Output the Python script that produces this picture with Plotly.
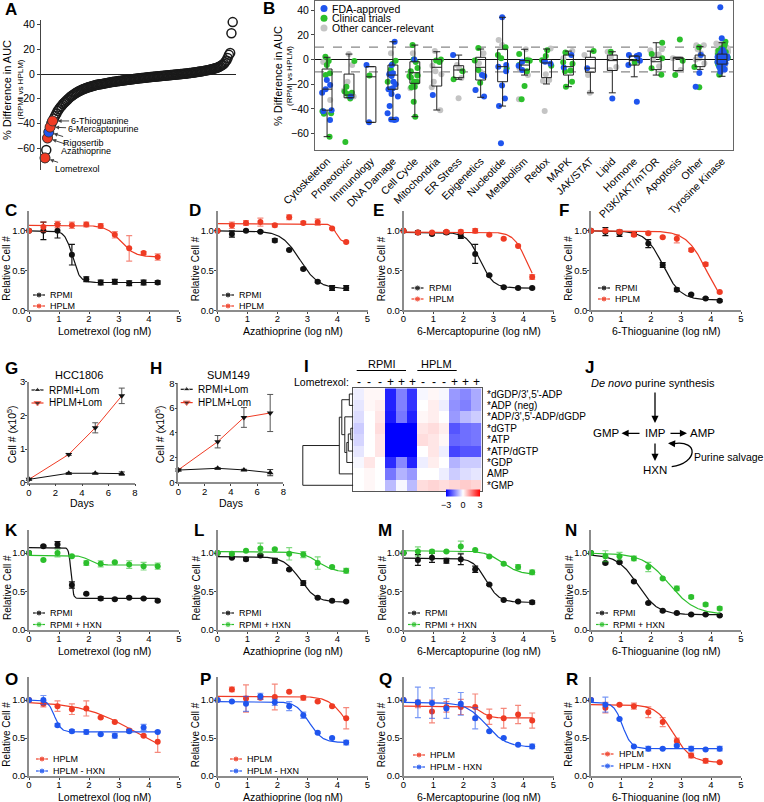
import numpy as np
import plotly.graph_objects as go

W, H = 764, 802
FONT = "Arial, Liberation Sans, sans-serif"
RED = "#ef3b24"
GREEN = "#2cbf2c"
BLUE = "#1f55ee"
GREY = "#c4c4c4"
BLACK = "#111111"
AXIS = "#8c8c8c"

# ---------------- panel A : ranked % difference in AUC ----------------
A_VALUES = [-67.9, -61.5, -51.8, -47.0, -43.0, -40.0, -38.0, -36.0, -34.0, -32.0,
            -30.0, -28.5, -27.0, -26.0, -24.5, -23.5, -22.5, -21.5, -20.5, -19.5,
            -18.5, -17.8, -17.0, -16.3, -15.6, -15.0, -14.4, -13.8, -13.3, -12.8,
            -12.3, -11.9, -11.5, -11.1, -10.8, -10.5, -10.2, -9.9, -9.6, -9.3,
            -9.0, -8.8, -8.6, -8.4, -8.2, -8.0, -7.8, -7.6, -7.4, -7.2,
            -7.0, -6.8, -6.6, -6.5, -6.3, -6.2, -6.0, -5.9, -5.7, -5.6,
            -5.4, -5.3, -5.1, -5.0, -4.8, -4.7, -4.6, -4.4, -4.3, -4.2,
            -4.0, -3.9, -3.8, -3.7, -3.5, -3.4, -3.3, -3.2, -3.1, -3.0,
            -2.8, -2.7, -2.6, -2.5, -2.4, -2.3, -2.2, -2.1, -2.0, -1.9,
            -1.8, -1.7, -1.6, -1.5, -1.4, -1.3, -1.2, -1.1, -1.0, -0.9,
            -0.8, -0.7, -0.6, -0.5, -0.4, -0.3, -0.2, -0.1, 0.0, 0.1,
            0.2, 0.4, 0.5, 0.6, 0.8, 0.9, 1.0, 1.2, 1.3, 1.5,
            1.6, 1.8, 2.0, 2.1, 2.3, 2.5, 2.7, 2.9, 3.1, 3.3,
            3.5, 3.8, 4.0, 4.3, 4.6, 4.9, 5.3, 5.7, 6.2, 6.8,
            7.5, 8.3, 9.5, 11.0, 13.0, 15.5, 17.0, 33.0, 42.0]
A_NAMES = ["Lometrexol", "Azathioprine", "Rigosertib", "6-Mercaptopurine", "6-Thioguanine"]
A_NAME_VALUES = [-67.9, -51.8, -47.0, -43.0, -38.0]
A_NAME_COLORS = [RED, RED, BLUE, RED, RED]

# ---------------- panel B : by drug class ----------------
B_CATS = ["Cytoskeleton", "Proteotoxic", "Immunology", "DNA Damage", "Cell Cycle",
          "Mitochondria", "ER Stress", "Epigenetics", "Nucleotide", "Metabolism",
          "Redox", "MAPK", "JAK/STAT", "Lipid", "Hormone", "PI3K/AKT/mTOR",
          "Apoptosis", "Other", "Tyrosine Kinase"]
B_Q1 = [-41, -31, -50.9, -24.1, -19.3, -21.5, -14.7, -16.6, -18, -8.5,
        -14.7, -12.6, -10.3, -8.9, -4.5, -8.2, -9, -5.8, -3.7]
B_MED = [-24, -28.8, -14, -12.6, -10.7, -6.3, -8.5, -6.3, -5.8, -4.5,
         -2.8, -5.8, -7, -0.9, -0.9, -1.8, 1, 0, 0]
B_Q3 = [-7.7, -11.8, -5.8, -4.5, -1.8, 0, -5, 1.8, 8.3, -0.9,
        0, 3.6, 1.8, 3.6, 2.8, 1.8, 1.8, 3.6, 4.4]
B_LO = [-62.5, -31, -50.9, -48.5, -46.3, -40.9, -16, -30.6, -37.7, -12.6,
        -19.8, -22, -27, -27, -14, -12.6, -9, -8, -13.6]
B_HI = [1.8, 4.4, -5.8, 14.4, 11.7, 6.3, 3.6, 8.5, 34.2, 8.3,
        8.5, 6.8, 6.8, 6.3, 2.8, 13.6, 1.8, 10.4, 13.6]
B_FDA = [[-16.6, -20.7, -24, -27, -42, -41, -49],
         [-30],
         [-4.5, -50.8],
         [14.4, -4.5, -11.2, -13.4, -18, -24, -24, -23.2, -28, -30, -37.7, -43.6, -48.6, -49, -48.6, -12, -20],
         [0],
         [-28.8],
         [3.6],
         [-12.6, -13.4, -24.6, -30],
         [34.2, -4.5, -5.8, -9.5, -21, -31.5, -37.7, -67.9],
         [-1.8, -8.5, -5],
         [-3.4, -1.8],
         [3.6, -6.4],
         [-7],
         [-31.5],
         [3.6, 3.6, 2.8, -1, -4.5, -34.2],
         [],
         [],
         [3.6, -11, -22],
         [42.3, 17.2, 8, 5, 3, 2, 1, 0, -1, -2, -3, -4, -6, -8, -10, 4, 6, -1.5, 0.5, 2.5]]
B_CLIN = [[-1.2, -4.5, 2.3, -12.6, -11.2, -42, -43.6, -62.5, -44],
          [-1.2, -22, -27, -26, -31.5, -66.8, -28],
          [-13],
          [-3.4, -1, -18, -8],
          [11.7, 0, -2, -6.9, -9.5, -13.4, -14.6, -18, -18, -18.9, -22, -34.2, -46.3, -22.5, -13],
          [0, -0.9, -2],
          [-9.5, -16],
          [9.3, -0.9, -8.5, -18.9],
          [10, 3.6, -7, 1],
          [4.4, -0.5, -4.5, -9.5, -21.5, -32.2, -1],
          [7.5, 2.8, -5, -0.5],
          [5.6, -2.3, -3.4, -9.5, -9, -18, -22],
          [6.8],
          [6.3],
          [-2.5],
          [13.6, 4.4, 1, -7, -12.3],
          [16.3, -1, -12.6],
          [10, -6, -22.5],
          [14.4, 12, 10, 7, 6, 5, 4, 3, 2, 1, 0.5, 0, -0.5, -1, -2, -3, -4, -5, -7, -12.3, 9, 3.5, -2.5, 1.5]]
B_OTHER = [[-32.8, -2],
           [4.4, -4.5, -18, -30, -25],
           [],
           [5, -22],
           [5, -23.2, -12.5],
           [6.8, -5, -9.5, -12, -41, -22.5, -18],
           [-4.5, -7, -31.4, -15],
           [5, -3, -10, -24.6],
           [15.8, 11.7],
           [8.3, 0, -7, -12.6, -32.2],
           [9, -16.6, -17.5, -41.7, -12],
           [6.8, 1],
           [3.6, -12.6, -27],
           [6.3, 2, -8.5, -6],
           [],
           [8.3, 7.5, 3.6, 0, -5.5, 4],
           [1, -8.5],
           [8.3, 11.5, 11.5, 5, 0, -3, 1],
           [13, 11, 10, 9, 8, 7, 6, 5, 4, 2, 1, -1, -3, -6, -9, 12.5, 3]]

# ---------------- dose response (C-F, K-N, O-R) ----------------
DOSE = [0, 0.48, 0.95, 1.43, 1.91, 2.39, 2.86, 3.34, 3.82, 4.29]
DRUGS = ["Lometrexol", "Azathioprine", "6-Mercaptopurine", "6-Thioguanine"]

RPMI_MEAN = [[1.0, 1.0, 1.0, 0.70, 0.39, 0.35, 0.36, 0.34, 0.35, 0.35],
             [1.0, 0.96, 1.0, 0.99, 0.88, 0.76, 0.52, 0.36, 0.28, 0.28],
             [1.0, 0.98, 0.96, 0.98, 0.935, 0.71, 0.44, 0.29, 0.28, 0.28],
             [1.0, 0.99, 0.97, 0.96, 0.84, 0.57, 0.26, 0.20, 0.15, 0.12]]
RPMI_SD = [[0, 0.11, 0.09, 0.13, 0.03, 0.03, 0.03, 0.03, 0.03, 0.02],
           [0, 0.04, 0.01, 0.01, 0.02, 0.01, 0.01, 0.01, 0.03, 0.03],
           [0, 0.02, 0.01, 0.02, 0.03, 0.12, 0.01, 0.01, 0.01, 0.01],
           [0, 0.05, 0.04, 0.02, 0.05, 0.03, 0.02, 0.01, 0.01, 0.01]]
RPMI_FIT = [(1.0, 0.35, 1.45, 3.5), (1.0, 0.27, 2.75, 1.4),
            (0.98, 0.28, 2.55, 2.0), (1.0, 0.13, 2.4, 1.5)]
HPLM_MEAN = [[1.0, 1.05, 1.08, 1.07, 1.08, 1.06, 0.95, 0.78, 0.72, 0.67],
             [1.0, 1.07, 1.10, 1.11, 1.07, 1.17, 1.10, 1.11, 1.03, 0.86],
             [1.0, 0.98, 0.98, 0.99, 0.99, 1.0, 0.95, 0.90, 0.81, 0.42],
             [1.0, 1.0, 0.99, 0.95, 0.97, 0.92, 0.90, 0.76, 0.58, 0.23]]
HPLM_SD = [[0, 0.06, 0.04, 0.04, 0.03, 0.03, 0.04, 0.16, 0.02, 0.04],
           [0, 0.04, 0.03, 0.05, 0.02, 0.03, 0.02, 0.04, 0.01, 0.01],
           [0, 0.01, 0.01, 0.01, 0.02, 0.03, 0.01, 0.01, 0.01, 0.03],
           [0, 0.01, 0.01, 0.02, 0.01, 0.01, 0.05, 0.02, 0.02, 0.01]]
HPLM_FIT = [(1.07, 0.67, 3.05, 1.8), (1.09, 0.855, 3.95, 5.0),
            (0.985, 0.25, 4.1, 2.0), (1.0, 0.0, 3.85, 1.3)]

RPMI2_MEAN = [[1.0, 1.09, 1.11, 0.585, 0.47, 0.41, 0.40, 0.42, 0.41, 0.38],
              [1.0, 0.94, 0.92, 0.97, 0.90, 0.785, 0.61, 0.42, 0.38, 0.37],
              [1.0, 0.91, 0.94, 0.90, 0.92, 0.79, 0.59, 0.39, 0.37, 0.36],
              [1.0, 0.87, 0.88, 0.63, 0.35, 0.25, 0.22, 0.20, 0.20, 0.19]]
RPMI2_SD = [[0, 0.01, 0.04, 0.04, 0.01, 0.02, 0.01, 0.01, 0.01, 0.01],
            [0, 0.01, 0.02, 0.01, 0.03, 0.01, 0.03, 0.01, 0.01, 0.01],
            [0, 0.07, 0.06, 0.03, 0.07, 0.04, 0.01, 0.01, 0.01, 0.02],
            [0, 0.01, 0.01, 0.01, 0.01, 0.01, 0.01, 0.01, 0.01, 0.01]]
RPMI2_FIT = [(1.07, 0.41, 1.4, 12.0), (0.955, 0.36, 2.75, 1.6),
             (0.935, 0.36, 2.75, 2.0), (0.98, 0.2, 1.55, 1.3)]
RHXN_MEAN = [[1.0, 0.91, 1.0, 0.96, 0.87, 0.86, 0.88, 0.85, 0.83, 0.83],
             [1.0, 0.99, 1.03, 1.06, 1.05, 0.99, 0.98, 0.87, 0.82, 0.77],
             [1.0, 1.02, 1.02, 1.02, 1.085, 1.04, 0.955, 0.86, 0.82, 0.75],
             [1.0, 0.96, 0.96, 0.93, 0.82, 0.67, 0.54, 0.43, 0.33, 0.28]]
RHXN_SD = [[0, 0.01, 0.05, 0.01, 0.03, 0.04, 0.01, 0.05, 0.05, 0.04],
           [0, 0.01, 0.01, 0.07, 0.01, 0.08, 0.04, 0.08, 0.01, 0.03],
           [0, 0.06, 0.02, 0.01, 0.07, 0.01, 0.01, 0.01, 0.03, 0.03],
           [0, 0.07, 0.05, 0.03, 0.06, 0.01, 0.03, 0.02, 0.02, 0.02]]
RHXN_FIT = [(0.97, 0.845, 2.0, 3.0), (1.02, 0.75, 3.35, 1.6),
            (1.03, 0.72, 3.3, 1.5), (1.0, 0.2, 2.6, 1.0)]

HPLM2_MEAN = [[1.0, 0.95, 0.92, 0.88, 0.89, 0.77, 0.71, 0.60, 0.53, 0.45],
              [1.0, 1.14, 1.02, 1.03, 1.04, 1.11, 1.03, 0.98, 0.92, 0.76],
              [1.0, 0.95, 0.85, 0.91, 0.91, 0.91, 0.78, 0.76, 0.81, 0.73],
              [1.0, 0.90, 0.94, 0.92, 0.84, 0.71, 0.46, 0.27, 0.20, 0.18]]
HPLM2_SD = [[0, 0.04, 0.07, 0.07, 0.10, 0.01, 0.01, 0.02, 0.01, 0.14],
            [0, 0.03, 0.18, 0.02, 0.17, 0.01, 0.03, 0.01, 0.01, 0.14],
            [0, 0.05, 0.15, 0.07, 0.10, 0.17, 0.10, 0.13, 0.12, 0.10],
            [0, 0.07, 0.01, 0.04, 0.07, 0.06, 0.04, 0.03, 0.03, 0.01]]
HPLM2_FIT = [(0.98, 0.2, 3.5, 0.5), (1.05, 0.4, 4.3, 1.5),
             (0.92, 0.765, 2.6, 3.0), (0.94, 0.18, 2.75, 1.5)]
HMHXN_MEAN = [[1.0, 1.0, 0.67, 0.59, 0.58, 0.55, 0.53, 0.59, 0.64, 0.58],
              [1.0, 0.98, 0.95, 1.05, 0.97, 0.92, 0.80, 0.57, 0.50, 0.44],
              [1.0, 0.97, 0.96, 0.89, 0.95, 0.76, 0.59, 0.50, 0.41, 0.39],
              [1.0, 0.94, 0.75, 0.39, 0.36, 0.36, 0.40, 0.36, 0.35, 0.36]]
HMHXN_SD = [[0, 0.06, 0.02, 0.02, 0.03, 0.01, 0.03, 0.02, 0.04, 0.01],
            [0, 0.01, 0.10, 0.04, 0.04, 0.06, 0.04, 0.01, 0.01, 0.03],
            [0, 0.20, 0.20, 0.13, 0.15, 0.14, 0.01, 0.01, 0.01, 0.03],
            [0, 0.10, 0.01, 0.01, 0.03, 0.01, 0.01, 0.03, 0.01, 0.03]]
HMHXN_FIT = [(1.0, 0.58, 0.85, 4.0), (0.98, 0.44, 3.05, 2.0),
             (0.97, 0.38, 2.75, 1.3), (0.97, 0.36, 1.05, 3.0)]

# ---------------- G, H : growth with lometrexol ----------------
DAYS = [0, 3, 5, 7]
G_RPMI = [0.1, 0.28, 0.28, 0.27]
G_RPMI_SD = [0.02, 0.02, 0.01, 0.05]
G_HPLM = [0.1, 0.84, 1.63, 2.58]
G_HPLM_SD = [0.02, 0.03, 0.15, 0.23]
H_RPMI = [0.99, 1.13, 1.0, 0.78]
H_RPMI_SD = [0.05, 0.05, 0.05, 0.25]
H_HPLM = [1.0, 3.28, 5.24, 5.6]
H_HPLM_SD = [0.1, 0.5, 0.8, 1.5]

# ---------------- I : nucleotide heatmap ----------------
I_ROWS = ["*dGDP/3',5'-ADP", "*ADP (neg)", "*ADP/3',5'-ADP/dGDP", "*dGTP", "*ATP",
          "*ATP/dGTP", "*GDP", "AMP", "*GMP"]
I_SIGNS = ["-", "-", "-", "+", "+", "+", "-", "-", "-", "+", "+", "+"]
I_Z = [[-0.2, 0.1, 0.1, -2.6, -1.5, -2.4, -0.1, 0.1, -0.1, -1.2, -1.4, -1.0],
       [-0.3, 0.1, 0.2, -2.6, -1.5, -2.4, 0.0, 0.2, -0.2, -1.3, -1.5, -1.0],
       [-0.4, 0.0, 0.3, -2.7, -1.6, -2.6, 0.1, 0.2, 0.0, -1.2, -0.8, -0.6],
       [-0.6, 0.0, 0.4, -3.5, -3.5, -3.5, 0.3, 0.4, 0.2, -2.0, -1.7, -1.6],
       [-0.5, 0.0, 0.3, -3.5, -3.5, -3.5, 0.4, 0.3, 0.1, -1.8, -1.7, -1.6],
       [-0.3, 0.0, 0.3, -3.5, -3.5, -3.5, 0.0, 0.3, -0.2, -2.2, -2.0, -2.0],
       [-0.1, 0.3, 0.0, -2.5, -1.4, -2.6, -0.2, 0.2, 0.0, -0.9, -0.6, -0.6],
       [0.0, 0.1, 0.0, -1.6, -0.9, -1.2, 0.0, 0.0, -0.2, -0.6, -0.4, -0.3],
       [0.0, 0.1, 0.0, -0.8, -0.1, -0.8, 0.4, 0.5, 0.4, 0.5, 0.6, 0.5]]
# row clustering: (child a, child b, merge height)
I_LINKAGE = [(3, 4, 2.5), (0, 1, 4), (9, 5, 5), (11, 6, 6.5), (2, 12, 8.5),
             (10, 13, 11.5), (14, 7, 14), (15, 8, 50.5)]

# ======================================================================
fig = go.Figure()
lay = {}
shapes, annos = [], []


def xd(a, b):
    return [a / W, b / W]


def yd(top, bot):
    return [1 - bot / H, 1 - top / H]


def text(x, y, s, size=11, xanchor="center", yanchor="middle", **kw):
    annos.append(dict(x=x / W, y=1 - y / H, xref="paper", yref="paper", text=s,
                      showarrow=False, xanchor=xanchor, yanchor=yanchor,
                      font=dict(size=size, family=FONT, color="black"), **kw))


def arrow(hx, hy, tx, ty):
    annos.append(dict(x=hx / W, y=1 - hy / H, xref="paper", yref="paper", text="",
                      showarrow=True, ax=tx - hx, ay=ty - hy, arrowhead=2, arrowsize=1.1,
                      arrowwidth=1.3, arrowcolor="black"))


def hline(x0, x1, y, color="black", width=1):
    shapes.append(dict(type="line", xref="paper", yref="paper", x0=x0 / W, x1=x1 / W,
                       y0=1 - y / H, y1=1 - y / H, line=dict(color=color, width=width)))


def lin_axis(**kw):
    d = dict(showline=True, linecolor=AXIS, linewidth=1.5, ticks="outside", ticklen=2,
             tickwidth=1, tickcolor="#444", tickfont=dict(size=9.5), showgrid=False,
             zeroline=False, fixedrange=True, ticklabelstandoff=-2)
    d.update(kw)
    return d


def set_axes(n, xa, ya):
    xa["anchor"] = "y%d" % n
    ya["anchor"] = "x%d" % n
    lay["xaxis%d" % n] = xa
    lay["yaxis%d" % n] = ya


def key(cx, y0, dy, items, size=9):
    # little legend: marker on a short line, label to the right
    for i, (label, mcolor, lcolor, symbol) in enumerate(items):
        y = y0 + i * dy
        fig.add_trace(go.Scatter(x=[cx - 6, cx, cx + 6], y=[y, y, y], mode="lines+markers",
                                 line=dict(color=lcolor, width=1.2),
                                 marker=dict(size=[0, 6, 0], color=mcolor, symbol=symbol),
                                 xaxis="x", yaxis="y", hoverinfo="skip", cliponaxis=False))
        text(cx + 9, y, label, size=size, xanchor="left")


# canvas axis used for keys
lay["xaxis"] = dict(domain=[0, 1], range=[0, W], visible=False, fixedrange=True)
lay["yaxis"] = dict(domain=[0, 1], range=[H, 0], visible=False, fixedrange=True)

# ---------------- A ----------------
ranks = list(range(len(A_VALUES)))
set_axes(2, dict(domain=xd(41, 236), range=[-3.15, 150.6], visible=False, fixedrange=True),
         lin_axis(domain=yd(20, 170), range=[-77.7, 43.7], tickvals=[-60, -40, -20, 0, 20, 40],
                  linecolor="#444", linewidth=1, ticklen=3, tickfont=dict(size=10.5),
                  ticklabelstandoff=0, zeroline=True, zerolinecolor="#222", zerolinewidth=1))
fig.add_trace(go.Scatter(x=ranks, y=A_VALUES, mode="markers", xaxis="x2", yaxis="y2",
                         marker=dict(symbol="circle-open", size=9, color="#1a1a1a", line=dict(width=1.5)),
                         cliponaxis=False))
name_ranks = [A_VALUES.index(v) for v in A_NAME_VALUES]
fig.add_trace(go.Scatter(x=name_ranks, y=A_NAME_VALUES, mode="markers", xaxis="x2", yaxis="y2",
                         marker=dict(size=10, color=A_NAME_COLORS, line=dict(color="#333", width=0.8)),
                         cliponaxis=False))
A_OFFSETS = [(32, 11), (38, 13), (35, 11), (53, 2), (47, 0)]
for nm, r, v, (ox, oy) in zip(A_NAMES, name_ranks, A_NAME_VALUES, A_OFFSETS):
    annos.append(dict(x=r, y=v, xref="x2", yref="y2", text=nm, showarrow=True, ax=ox, ay=oy,
                      arrowhead=2, arrowsize=0.8, arrowwidth=1, standoff=5,
                      font=dict(size=9, family=FONT, color="black")))
text(7, 90, "% Difference in AUC", size=11, textangle=-90)
text(19.5, 90, "(RPMI vs HPLM)", size=8, textangle=-90)

# ---------------- B ----------------
set_axes(3, dict(domain=xd(315, 733), range=[-0.55, 18.5], tickvals=list(range(19)), ticktext=B_CATS,
                 tickangle=-45, tickfont=dict(size=10.5), showline=True, mirror=True, linecolor="#666",
                 linewidth=1, ticks="", showgrid=False, zeroline=False, fixedrange=True),
         dict(domain=yd(1, 150), range=[-73.3, 47.4], tickvals=[-60, -40, -20, 0, 20, 40],
              showline=True, mirror=True, linecolor="#666", linewidth=1, ticks="outside", ticklen=3,
              tickfont=dict(size=10.5), showgrid=False, zeroline=False, fixedrange=True))
for v, dash, col in ((10, "dash", "#888"), (-10, "dash", "#888"), (0, None, "#111")):
    shapes.append(dict(type="line", xref="x3 domain", yref="y3", x0=0, x1=1, y0=v, y1=v,
                       layer="below", line=dict(color=col, width=1.2 if dash else 1, dash=dash)))
for pts, color in ((B_OTHER, GREY), (B_CLIN, GREEN), (B_FDA, BLUE)):
    xs, ys = [], []
    for i, vals in enumerate(pts):
        xs += [i] * len(vals)
        ys += vals
    fig.add_trace(go.Box(x=xs, y=ys, boxpoints="all", jitter=1, pointpos=0, width=0.55,
                         marker=dict(color=color, size=6), line=dict(color="rgba(0,0,0,0)"),
                         fillcolor="rgba(0,0,0,0)", xaxis="x3", yaxis="y3", hoveron="points"))
fig.add_trace(go.Box(x=list(range(19)), q1=B_Q1, median=B_MED, q3=B_Q3, lowerfence=B_LO,
                     upperfence=B_HI, width=0.45, whiskerwidth=0.7, boxpoints=False,
                     line=dict(color="#222", width=1), fillcolor="rgba(0,0,0,0)",
                     xaxis="x3", yaxis="y3"))
for i, (label, color) in enumerate((("FDA-approved", BLUE), ("Clinical trials", GREEN),
                                    ("Other cancer-relevant", GREY))):
    y = 8.5 + i * 9.7
    fig.add_trace(go.Scatter(x=[324], y=[y], mode="markers", marker=dict(size=7, color=color),
                             xaxis="x", yaxis="y", hoverinfo="skip"))
    text(330, y, label, size=10.5, xanchor="left")
text(278, 76, "% Difference in AUC", size=11, textangle=-90)
text(290, 76, "(RPMI vs HPLM)", size=8, textangle=-90)

# ---------------- dose response rows ----------------
LEFTS = [29, 217.5, 403.5, 591]
XFIT = np.linspace(0, DOSE[-1], 200)


def dose_panel(n, left, top, bot, ymax, drug, series):
    set_axes(n, lin_axis(domain=xd(left, left + 150), range=[0, 5], tickvals=[0, 1, 2, 3, 4, 5],
                         ticklabelstandoff=-3),
             lin_axis(domain=yd(top, bot), range=[0, ymax], tickvals=[0, 0.5, 1], tickformat=".1f"))
    text(left + 75, bot + 20.5, drug + " (log nM)", size=10.5)
    text(left - 22, (top + bot) / 2 + 8, "Relative Cell #", size=10, textangle=-90)
    for mean, sd, fit, color, ecol in series:
        t, b, ic, hill = fit
        yfit = b + (t - b) / (1 + 10 ** (hill * (XFIT - ic)))
        fig.add_trace(go.Scatter(x=XFIT, y=yfit, mode="lines", line=dict(color=color, width=1.2),
                                 xaxis="x%d" % n, yaxis="y%d" % n, hoverinfo="skip"))
        fig.add_trace(go.Scatter(x=DOSE, y=mean, mode="markers", marker=dict(color=color, size=6),
                                 error_y=dict(type="data", array=sd, color=ecol, thickness=1.2, width=3),
                                 xaxis="x%d" % n, yaxis="y%d" % n, cliponaxis=False))


RED_E = "rgba(239,59,36,0.6)"
GREEN_E = "rgba(44,191,44,0.6)"
BLUE_E = "rgba(31,85,238,0.6)"
ROW1 = (211, 310.3, 1.25)
ROW3 = (530, 630, 1.3)
ROW4 = (677.3, 776, 1.3)
KEYS_1 = [(39, 295, 11), (228, 295, 11), (417.5, 288, 11), (604, 288, 11)]
KEYS_3 = [(39, 613, 11.5), (228, 613, 11.5), (414, 613, 11.5), (602, 613, 11.5)]
KEYS_4 = [(42, 759, 12), (236, 759, 12), (419, 755, 12), (607.5, 754, 12)]
LABELS_1 = [(3, 210, "C"), (187, 210, "D"), (371, 210, "E"), (557, 210, "F")]
LABELS_3 = [(3, 530, "K"), (192, 530, "L"), (376, 530, "M"), (563, 530, "N")]
LABELS_4 = [(3, 679, "O"), (198, 679, "P"), (377, 679, "Q"), (564, 679, "R")]

for j in range(4):
    dose_panel(4 + j, LEFTS[j], ROW1[0], ROW1[1], ROW1[2], DRUGS[j],
               [(RPMI_MEAN[j], RPMI_SD[j], RPMI_FIT[j], BLACK, BLACK),
                (HPLM_MEAN[j], HPLM_SD[j], HPLM_FIT[j], RED, RED_E)])
    cx, y0, dy = KEYS_1[j]
    key(cx, y0, dy, [("RPMI", BLACK, BLACK, "circle"), ("HPLM", RED, RED, "circle")])

    dose_panel(12 + j, LEFTS[j], ROW3[0], ROW3[1], ROW3[2], DRUGS[j],
               [(RPMI2_MEAN[j], RPMI2_SD[j], RPMI2_FIT[j], BLACK, BLACK),
                (RHXN_MEAN[j], RHXN_SD[j], RHXN_FIT[j], GREEN, GREEN_E)])
    cx, y0, dy = KEYS_3[j]
    key(cx, y0, dy, [("RPMI", BLACK, BLACK, "circle"), ("RPMI + HXN", GREEN, GREEN, "circle")])

    dose_panel(16 + j, LEFTS[j], ROW4[0], ROW4[1], ROW4[2], DRUGS[j],
               [(HPLM2_MEAN[j], HPLM2_SD[j], HPLM2_FIT[j], RED, RED_E),
                (HMHXN_MEAN[j], HMHXN_SD[j], HMHXN_FIT[j], BLUE, BLUE_E)])
    cx, y0, dy = KEYS_4[j]
    key(cx, y0, dy, [("HPLM", RED, RED, "circle"), ("HPLM - HXN", BLUE, BLUE, "circle")])

# ---------------- G, H ----------------
for n, (x0, x1), (t, b), ymax, yt, title, tx, ytx, rp, rps, hp, hps in (
        (8, (29, 135), (381.7, 482.7), 3, [0, 1, 2, 3], "HCC1806", 79, 11,
         G_RPMI, G_RPMI_SD, G_HPLM, G_HPLM_SD),
        (9, (178.3, 283.3), (383.3, 482.3), 8, [0, 2, 4, 6, 8], "SUM149", 228, 159.5,
         H_RPMI, H_RPMI_SD, H_HPLM, H_HPLM_SD)):
    set_axes(n, lin_axis(domain=xd(x0, x1), range=[0, 8], tickvals=[0, 2, 4, 6, 8],
                         ticklabelstandoff=-2),
             lin_axis(domain=yd(t, b), range=[0, ymax], tickvals=yt))
    text((x0 + x1) / 2, b + 20.5, "Days", size=10.5)
    text(ytx, (t + b) / 2 + 2, "Cell # (x10<sup>5</sup>)", size=10.5, textangle=-90)
    fig.add_trace(go.Scatter(x=DAYS, y=rp, mode="lines+markers", line=dict(color=BLACK, width=1),
                             marker=dict(symbol="triangle-up", size=6, color=BLACK),
                             error_y=dict(type="data", array=rps, color="#333", thickness=1, width=3),
                             xaxis="x%d" % n, yaxis="y%d" % n, cliponaxis=False))
    fig.add_trace(go.Scatter(x=DAYS, y=hp, mode="lines+markers", line=dict(color=RED, width=1),
                             marker=dict(symbol="triangle-down", size=6, color=BLACK),
                             error_y=dict(type="data", array=hps, color="#555", thickness=1, width=3),
                             xaxis="x%d" % n, yaxis="y%d" % n, cliponaxis=False))
    text(tx, 375, title, size=11)
key(37.5, 390, 13, [("RPMI+Lom", BLACK, BLACK, "triangle-up"), ("HPLM+Lom", BLACK, RED, "triangle-down")],
    size=10)
key(186.7, 389.3, 13.3, [("RPMI+Lom", BLACK, BLACK, "triangle-up"), ("HPLM+Lom", BLACK, RED, "triangle-down")],
    size=10)

# ---------------- I : heatmap + dendrogram ----------------
set_axes(10, dict(domain=xd(353.3, 481.7), range=[-0.5, 11.5], showticklabels=False, ticks="",
                  showgrid=False, zeroline=False, showline=True, mirror=True, linecolor="#555",
                  linewidth=0.8, fixedrange=True),
         dict(domain=yd(388.3, 491), range=[8.5, -0.5], showticklabels=False, ticks="",
              showgrid=False, zeroline=False, showline=True, mirror=True, linecolor="#555",
              linewidth=0.8, fixedrange=True))
fig.add_trace(go.Heatmap(z=I_Z, x=list(range(12)), y=list(range(9)), zmin=-3, zmax=3,
                         colorscale=[[0, "rgb(0,0,255)"], [0.5, "rgb(255,255,255)"], [1, "rgb(255,0,0)"]],
                         xaxis="x10", yaxis="y10",
                         colorbar=dict(orientation="h", x=463 / W, y=1 - 498 / H, xanchor="center",
                                       yanchor="middle", len=34, lenmode="pixels", thickness=7,
                                       tickvals=[-3, 0, 3], tickfont=dict(size=9, family=FONT),
                                       outlinewidth=0, xpad=0, ypad=0, ticks="")))
pos = {i: float(i) for i in range(9)}
hgt = {i: 0.0 for i in range(9)}
dx, dy_ = [], []
for k, (a, b, h) in enumerate(I_LINKAGE):
    dx += [hgt[a], h, h, hgt[b], None]
    dy_ += [pos[a], pos[a], pos[b], pos[b], None]
    pos[9 + k] = (pos[a] + pos[b]) / 2
    hgt[9 + k] = h
set_axes(11, dict(domain=xd(300, 353.3), range=[53.3, 0], visible=False, fixedrange=True),
         dict(domain=yd(388.3, 491), range=[8.5, -0.5], visible=False, fixedrange=True))
fig.add_trace(go.Scatter(x=dx, y=dy_, mode="lines", line=dict(color="#222", width=1),
                         xaxis="x11", yaxis="y11", hoverinfo="skip", cliponaxis=False))
for i, lab in enumerate(I_ROWS):
    annos.append(dict(x=485 / W, y=i, xref="paper", yref="y10", text=lab, showarrow=False,
                      xanchor="left", yanchor="middle", font=dict(size=10, family=FONT, color="black")))
for i, s in enumerate(I_SIGNS):
    annos.append(dict(x=i, y=1 - 381.7 / H, xref="x10", yref="paper", text=s, showarrow=False,
                      xanchor="center", yanchor="middle", font=dict(size=12, family=FONT, color="black")))
text(351, 381.7, "Lometrexol:", size=10.5, xanchor="right")
text(381.7, 364.5, "RPMI", size=11)
text(436.7, 364.5, "HPLM", size=11)
hline(356.7, 406, 370.5)
hline(417.3, 456.7, 370.5)

# ---------------- J : purine scheme ----------------
text(653, 383, "<i>De novo</i> purine synthesis", size=11)
text(655, 433.3, "IMP", size=11.5)
text(606, 433.3, "GMP", size=11.5)
text(702, 433.3, "AMP", size=11.5)
text(655, 469.5, "HXN", size=11.5)
text(692, 457, "Purine salvage", size=10.5, xanchor="left")
arrow(655, 423, 655, 391)
arrow(621.5, 433.3, 641, 433.3)
arrow(687, 433.3, 669, 433.3)
arrow(655, 461, 655, 442)


def P(x, y):
    return "%.5f,%.5f" % (x / W, 1 - y / H)


shapes.append(dict(type="path", xref="paper", yref="paper",
                   path="M %s C %s %s %s" % (P(671.7, 466.7), P(698, 463), P(699, 440), P(674, 443.6)),
                   line=dict(color="black", width=1.3)))
arrow(668, 443.2, 676, 443.8)

# ---------------- panel letters ----------------
for x, y, s in [(3, 9, "A"), (261, 8, "B"), (3, 368, "G"), (148, 368, "H"), (302, 366, "I"),
                (583, 367, "J")] + LABELS_1 + LABELS_3 + LABELS_4:
    text(x, y, "<b>%s</b>" % s, size=17, xanchor="left")

lay.update(width=W, height=H, margin=dict(l=0, r=0, t=0, b=0), showlegend=False,
           paper_bgcolor="white", plot_bgcolor="rgba(0,0,0,0)", template="none",
           font=dict(family=FONT, color="black", size=11), boxmode="overlay",
           shapes=shapes, annotations=annos)
fig.update_layout(**lay)
# the page's default body margin would push the 764x802 figure out of the window
fig.write_html("out.html", config={"displayModeBar": False},
               post_script="document.body.style.margin='0';document.body.style.padding='0';")
